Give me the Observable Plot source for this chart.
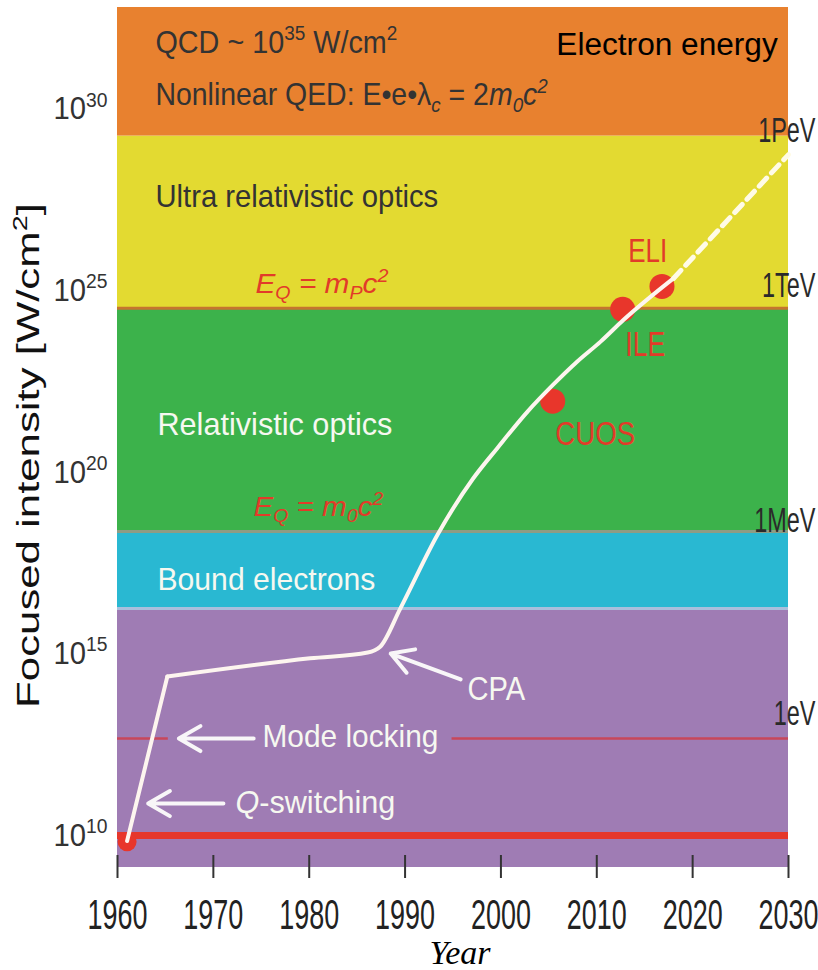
<!DOCTYPE html>
<html><head><meta charset="utf-8">
<script src="https://cdn.jsdelivr.net/npm/d3@7"></script>
<script src="https://cdn.jsdelivr.net/npm/@observablehq/plot@0.6"></script>
<style>html,body{margin:0;padding:0;background:#fff;} #chart svg{display:block;}</style>
</head><body><div id="chart"></div>
<script>
// ---------- data ----------
const xTicks = [1960, 1970, 1980, 1990, 2000, 2010, 2020, 2030];
const yTicks = [10, 15, 20, 25, 30]; // log10 of intensity (W/cm^2)

const bandNames = ["Laser", "Bound electrons", "Relativistic optics", "Ultra relativistic optics", "Nonlinear QED"];
const bandLow  = [9.12, 16.25, 18.37, 24.52, 29.26];
const bandHigh = [16.25, 18.37, 24.52, 29.26, 32.8];

const separatorNames = ["mPc2", "m0c2", "bound"];
const separatorExp = [24.52, 18.37, 16.25];

const qSwitchExp = 10.0;
const modeLockExp = 12.67;
const modeLockStart = [1960, 1994.9];
const modeLockEnd = [1965.3, 2030];

// peak intensity curve (year, log10 intensity)
const kneeYear = [1961.0, 1965.2];
const kneeExp  = [9.85, 14.38];
const curveYear = [1965.2, 1980.1, 1986.1, 1987.4, 1989.5, 1993.4, 1997.1, 1999.6, 2002.8, 2005.4, 2008.0, 2010.4, 2012.8, 2018.0];
const curveExp  = [14.38, 14.88, 15.04, 15.2, 16.25, 18.29, 19.83, 20.66, 21.68, 22.4, 23.06, 23.6, 24.2, 25.34];
const dashYear = [2018.0, 2030];
const dashExp  = [25.34, 28.75];

const facilityNames = ["CUOS", "ILE", "ELI"];
const facilityYear = [2005.4, 2012.7, 2016.8];
const facilityExp  = [21.96, 24.49, 25.12];
const startYear = [1961.0];
const startExp = [9.83];

const energyLabels = ["1PeV", "1TeV", "1MeV", "1eV"];
const energyExp = [29.41, 25.15, 18.66, 13.35];

// ---------- styles ----------
const bandColor = {
  "Laser": "#9f7cb4",
  "Bound electrons": "#29b8d2",
  "Relativistic optics": "#3cb24b",
  "Ultra relativistic optics": "#e3da31",
  "Nonlinear QED": "#e8812f"
};
const sepColor = {"mPc2": "#c4752e", "m0c2": "#8e9c84", "bound": "#a9bfdc"};
const RED = "#e23b29", DARK = "#333", WHITE = "#f6f8f0";

const bands = bandNames.map((name, i) => ({name, x1: xTicks[0], x2: xTicks[xTicks.length - 1], lo: bandLow[i], hi: bandHigh[i]}));
const seps = separatorNames.map((name, i) => ({name, y: separatorExp[i]}));
const modeLock = modeLockStart.map((s, i) => ({x1: s, x2: modeLockEnd[i], y: modeLockExp}));
const knee = kneeYear.map((x, i) => ({x, y: kneeExp[i]}));
const curve = curveYear.map((x, i) => ({x, y: curveExp[i]}));
const dash = dashYear.map((x, i) => ({x, y: dashExp[i]}));
const facilities = facilityNames.map((name, i) => ({name, x: facilityYear[i], y: facilityExp[i]}));
const start = startYear.map((x, i) => ({x, y: startExp[i]}));
const energy = energyLabels.map((label, i) => ({label, y: energyExp[i]}));

const arrows = [
  {name: "Mode locking", x1: 1974.2, y1: 12.67, x2: 1966.4, y2: 12.67},
  {name: "Q-switching", x1: 1971.05, y1: 10.88, x2: 1963.2, y2: 10.88},
  {name: "CPA", x1: 1995.8, y1: 14.3, x2: 1988.5, y2: 15.01}
];

const notes = [
  {t: "QCD ~ 10^{35} W/cm^{2}", x: 1963.96, y: 31.83, size: 32, fill: DARK, w: 242},
  {t: "Nonlinear QED: E•e•λ_{%{c}} = 2%{m_{0}c^{2}}", x: 1963.96, y: 30.39, size: 31, fill: DARK, w: 393},
  {t: "Electron energy", x: 2005.78, y: 31.76, size: 31, fill: "#000", w: 222},
  {t: "Ultra relativistic optics", x: 1963.96, y: 27.58, size: 31, fill: DARK, w: 283},
  {t: "%{E_{Q} = m_{P}c^{2}}", x: 1974.39, y: 25.19, size: 28, fill: RED, w: 133},
  {t: "Relativistic optics", x: 1964.17, y: 21.31, size: 32, fill: WHITE, w: 235},
  {t: "%{E_{Q} = m_{0}c^{2}}", x: 1974.18, y: 19.04, size: 27, fill: RED, w: 130},
  {t: "Bound electrons", x: 1964.17, y: 17.04, size: 32, fill: WHITE, w: 218},
  {t: "Mode locking", x: 1975.12, y: 12.73, size: 32, fill: WHITE, w: 176},
  {t: "%{Q}-switching", x: 1972.3, y: 10.9, size: 32, fill: WHITE, w: 160},
  {t: "CPA", x: 1996.5, y: 14.04, size: 34, fill: WHITE, w: 58},
  {t: "CUOS", x: 2005.67, y: 21.06, size: 34, fill: RED, w: 80},
  {t: "ILE", x: 2012.97, y: 23.51, size: 36, fill: RED, w: 40},
  {t: "ELI", x: 2013.28, y: 26.09, size: 33, fill: RED, w: 39}
];
const Y_TITLE = "Focused intensity [W/cm^{2}]";

const marks = [
  Plot.rect(bands, {x1: "x1", x2: "x2", y1: "lo", y2: "hi", fill: d => bandColor[d.name]}),
  ...seps.map(s => Plot.ruleY([s], {y: "y", x1: xTicks[0], x2: xTicks[xTicks.length - 1], stroke: sepColor[s.name], strokeWidth: 3})),
  Plot.ruleY(modeLock, {y: "y", x1: "x1", x2: "x2", stroke: "#c8475a", strokeWidth: 2.5}),
  Plot.ruleY([qSwitchExp], {y: d => d, x1: xTicks[0], x2: xTicks[xTicks.length - 1], stroke: "#e5372c", strokeWidth: 7}),
  Plot.tickX(xTicks, {x: d => d, stroke: "#333", strokeWidth: 2, insetTop: 848, insetBottom: -11}),
  Plot.dot(facilities, {x: "x", y: "y", r: 12.5, fill: "#e8362b"}),
  Plot.dot(start, {x: "x", y: "y", r: 9.5, fill: "#e8362b"}),
  Plot.line(knee, {x: "x", y: "y", stroke: "#fdf5ef", strokeWidth: 4}),
  Plot.line(curve, {x: "x", y: "y", stroke: "#fdf5ef", strokeWidth: 4, curve: "monotone-x"}),
  Plot.line(dash, {x: "x", y: "y", stroke: "#fffbe6", strokeWidth: 5, strokeDasharray: "11,7"}),
  Plot.arrow(arrows, {x1: "x1", y1: "y1", x2: "x2", y2: "y2", stroke: "#f8f6f8", strokeWidth: 4, headLength: 16}),
  ...notes.map(n => Plot.text([n], {x: "x", y: "y", text: "t", textAnchor: "start", fontSize: n.size, fill: n.fill})),
  Plot.text(energy, {y: "y", text: "label", frameAnchor: "right", textAnchor: "end", dx: 27, fontSize: 35, fill: "#2a2a2a"}),
  Plot.axisX(xTicks, {tickSize: 0, tickPadding: 31, fontSize: 43, tickFormat: d => String(d), label: null, fill: "#222"}),
  Plot.axisY(yTicks, {tickSize: 0, tickPadding: 10, fontSize: 32, tickFormat: d => `10^{${d}}`, label: null, fill: "#333"}),
  Plot.text([Y_TITLE], {frameAnchor: "left", textAnchor: "middle", dx: -88, dy: 18, rotate: -90, fontSize: 44, fill: "#111"}),
  Plot.text(["Year"], {frameAnchor: "bottom", dy: 96, dx: 7, fontSize: 34, fontFamily: "Liberation Serif", fontStyle: "italic", fill: "#000"})
];

const svg = Plot.plot({
  width: 818, height: 970,
  marginLeft: 117, marginRight: 30, marginTop: 7, marginBottom: 103,
  x: {domain: [xTicks[0], xTicks[xTicks.length - 1]], label: null},
  y: {domain: [9.12, 32.8], label: null},
  color: {type: "identity"},
  style: {fontFamily: "'Liberation Sans', Arial, sans-serif", background: "#fff", overflow: "visible", color: "#222"},
  marks
});
document.getElementById("chart").append(svg);

// ---------- condensed lettering targets (width in px, or plain x-factor) ----------
const fitWidth = new Map(notes.map(n => [n.t, n.w]));
xTicks.forEach(d => fitWidth.set(String(d), 60));
yTicks.forEach(d => fitWidth.set(`10^{${d}}`, 54));
fitWidth.set(Y_TITLE, 505);
const factorX = new Map(energyLabels.map(l => [l, 0.67]));
const factorY = new Map([[Y_TITLE, 0.7]]);

// ---------- rich text (super/subscripts, italics) ----------
function parseRich(s) {
  const out = []; let i = 0;
  function walk(st) {
    let buf = "";
    const flush = () => { if (buf) { out.push({t: buf, ...st}); buf = ""; } };
    while (i < s.length) {
      const c = s[i];
      if ((c === "^" || c === "_" || c === "%") && s[i + 1] === "{") {
        flush(); i += 2;
        const ns = {...st};
        if (c === "^") ns.v = "sup"; else if (c === "_") ns.v = "sub"; else ns.it = true;
        walk(ns);
      } else if (c === "}") { flush(); i++; return; }
      else { buf += c; i++; }
    }
    flush();
  }
  walk({v: "base", it: false});
  return out;
}
function richify(el, raw) {
  if (!/[\^_%]\{/.test(raw)) return;
  const F = parseFloat(getComputedStyle(el).fontSize) || 16;
  const segs = parseRich(raw);
  while (el.firstChild) el.removeChild(el.firstChild);
  let cur = 0;
  for (const s of segs) {
    const t = document.createElementNS("http://www.w3.org/2000/svg", "tspan");
    t.textContent = s.t;
    let off = 0, size = F;
    if (s.v === "sup") { off = -0.4 * F; size = 0.66 * F; }
    else if (s.v === "sub") { off = 0.22 * F; size = 0.66 * F; }
    if (size !== F) t.setAttribute("font-size", size);
    if (s.it) t.setAttribute("font-style", "italic");
    if (off !== cur) { t.setAttribute("dy", off - cur); cur = off; }
    el.appendChild(t);
  }
}
svg.querySelectorAll("text").forEach(el => {
  const raw = el.textContent;
  richify(el, raw);
  let sx = 1, sy = 1;
  if (fitWidth.has(raw)) {
    const w = el.getBBox().width;
    if (w > 0) sx = fitWidth.get(raw) / w;
  } else if (factorX.has(raw)) sx = factorX.get(raw);
  if (factorY.has(raw)) sy = factorY.get(raw);
  if (sx !== 1 || sy !== 1) {
    const tr = el.getAttribute("transform") || "";
    el.setAttribute("transform", `${tr} scale(${sx},${sy})`);
  }
});
</script>
</body></html>
